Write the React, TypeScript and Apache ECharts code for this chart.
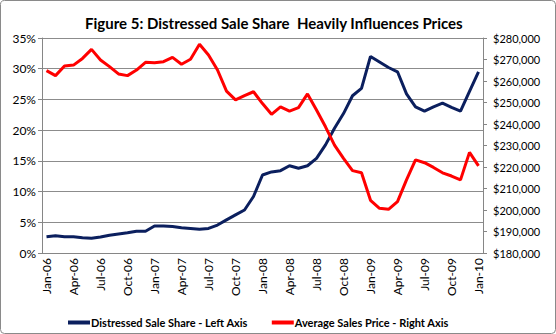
import React, { useEffect, useRef } from "react";
import * as echarts from "echarts";

const months = (() => {
  const names = ["Jan", "Feb", "Mar", "Apr", "May", "Jun", "Jul", "Aug", "Sep", "Oct", "Nov", "Dec"];
  const out: string[] = [];
  for (let y = 6; y <= 10; y++) {
    for (let m = 0; m < 12; m++) {
      if (y === 10 && m > 0) break;
      out.push(`${names[m]}-${String(y).padStart(2, "0")}`);
    }
  }
  return out;
})();

const distressedShare = [
  2.65, 2.8, 2.65, 2.65, 2.5, 2.4, 2.6, 2.9, 3.1, 3.3, 3.55, 3.55,
  4.4, 4.4, 4.3, 4.1, 4.0, 3.85, 4.0, 4.55, 5.4, 6.2, 7.0, 9.2,
  12.7, 13.2, 13.4, 14.2, 13.8, 14.2, 15.4, 17.6, 20.3, 22.7, 25.6, 26.8,
  32.0, 31.1, 30.2, 29.5, 25.9, 23.8, 23.1, 23.8, 24.4, 23.7, 23.1, 26.3,
  29.5,
];

const avgPrice = [
  264800, 262500, 267000, 267400, 270500, 274700, 269800, 266700, 263300, 262500, 265100, 268700,
  268500, 269000, 271000, 267800, 270100, 277100, 272100, 265100, 255300, 251200, 253200, 255000,
  249500, 244500, 248000, 246000, 247600, 254000, 246500, 238700, 230200, 224000, 218300, 217300,
  204500, 200800, 200300, 203900, 214000, 223300, 222000, 219800, 217300, 215800, 214000, 226800,
  220500,
];

const seriesNames = ["Distressed Sale Share - Left Axis", "Average Sales Price - Right Axis"];
const titleText = "Figure 5: Distressed Sale Share  Heavily Influences Prices";

const FONT = "Lato";

export default function App() {
  const ref = useRef<HTMLDivElement>(null);
  useEffect(() => {
    if (!ref.current) return;
    const chart = echarts.init(ref.current, undefined, { renderer: "svg" });
    const axisGray = "#868686";
    chart.setOption({
      animation: false,
      backgroundColor: "#ffffff",
      title: {
        text: titleText,
        left: 80,
        top: 10,
        textStyle: { fontFamily: FONT, fontWeight: "bold", fontSize: 15, color: "#000" },
      },
      graphic: [
        {
          type: "rect",
          shape: { x: 0.5, y: 0.5, width: 555, height: 333, r: 4 },
          style: { fill: "none", stroke: "#8a8a8a", lineWidth: 1 },
          silent: true,
        },
      ],
      legend: {
        left: 63,
        top: 312,
        itemGap: 24,
        itemWidth: 22,
        itemHeight: 4,
        icon: "rect",
        textStyle: { fontFamily: FONT, fontWeight: "bold", fontSize: 11, color: "#000", padding: [0, 0, 0, -4] },
        data: seriesNames,
      },
      grid: { left: 42, right: 73, top: 38, bottom: 81, containLabel: false },
      xAxis: {
        type: "category",
        data: months,
        boundaryGap: true,
        axisLine: { lineStyle: { color: axisGray } },
        axisTick: { interval: 2, length: 4, lineStyle: { color: axisGray } },
        axisLabel: {
          interval: 2,
          rotate: 90,
          margin: 5,
          fontFamily: FONT,
          fontSize: 12,
          color: "#000",
        },
      },
      yAxis: [
        {
          type: "value",
          min: 0,
          max: 35,
          interval: 5,
          axisLine: { show: true, lineStyle: { color: axisGray } },
          axisTick: { show: true, length: 4, lineStyle: { color: axisGray } },
          splitLine: { show: true, lineStyle: { color: "#8c8c8c", width: 1 } },
          axisLabel: {
            formatter: (v: number) => `${v}%`,
            fontFamily: FONT,
            fontSize: 12,
            color: "#000",
            margin: 6,
          },
        },
        {
          type: "value",
          min: 180000,
          max: 280000,
          interval: 10000,
          position: "right",
          axisLine: { show: true, lineStyle: { color: axisGray } },
          axisTick: { show: true, length: 4, lineStyle: { color: axisGray } },
          splitLine: { show: false },
          axisLabel: {
            formatter: (v: number) => "$" + v.toLocaleString("en-US"),
            fontFamily: FONT,
            fontSize: 11,
            color: "#000",
            margin: 10,
          },
        },
      ],
      series: [
        {
          name: seriesNames[0],
          type: "line",
          yAxisIndex: 0,
          data: distressedShare,
          showSymbol: false,
          symbol: "none",
          lineStyle: { color: "#0b1f5e", width: 3 },
          itemStyle: { color: "#0b1f5e" },
        },
        {
          name: seriesNames[1],
          type: "line",
          yAxisIndex: 1,
          data: avgPrice,
          showSymbol: false,
          symbol: "none",
          lineStyle: { color: "#ff0000", width: 3 },
          itemStyle: { color: "#ff0000" },
        },
      ],
    });
    return () => chart.dispose();
  }, []);
  return (
    <div
      ref={ref}
      style={{ position: "fixed", left: 0, top: 0, width: 556, height: 334 }}
    />
  );
}
